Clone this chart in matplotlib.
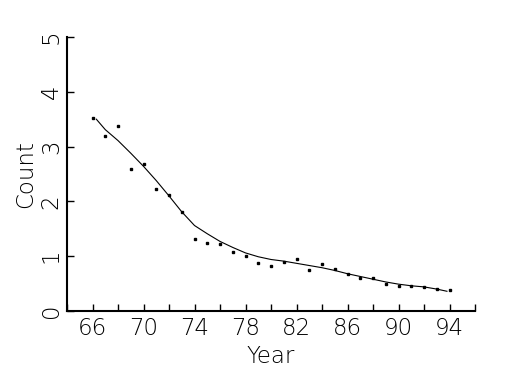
import matplotlib
matplotlib.use("Agg")
import matplotlib.pyplot as plt
from matplotlib.ticker import MultipleLocator

# observed yearly counts
years = [66, 67, 68, 69, 70, 71, 72, 73, 74, 75, 76, 77, 78, 79, 80,
         81, 82, 83, 84, 85, 86, 87, 88, 89, 90, 91, 92, 93, 94]
counts = [3.52, 3.19, 3.38, 2.60, 2.68, 2.23, 2.11, 1.80, 1.31, 1.24,
          1.22, 1.07, 1.00, 0.87, 0.83, 0.89, 0.94, 0.74, 0.85, 0.76,
          0.68, 0.60, 0.60, 0.50, 0.45, 0.45, 0.43, 0.41, 0.38]

# smoothed fit line
fit_years = [66.3, 67, 68, 69, 70, 71, 72, 73, 74, 75, 76, 77, 78, 79,
             80, 81, 82, 83, 84, 85, 86, 87, 88, 89, 90, 91, 92, 93, 93.8]
fit_counts = [3.50, 3.31, 3.11, 2.88, 2.64, 2.38, 2.10, 1.81, 1.56, 1.41,
              1.27, 1.16, 1.06, 0.99, 0.94, 0.91, 0.87, 0.83, 0.79, 0.74,
              0.68, 0.63, 0.58, 0.53, 0.49, 0.46, 0.44, 0.40, 0.36]

x_labels = ["66", "70", "74", "78", "82", "86", "90", "94"]
y_labels = ["0", "1", "2", "3", "4", "5"]

font = dict(family="DejaVu Sans", weight=200, size=16.5)

fig = plt.figure(figsize=(5.25, 3.75), dpi=100)
ax = fig.add_axes([67 / 525, 64 / 375, 408 / 525, 274 / 375])

ax.plot(fit_years, fit_counts, color="black", linewidth=0.8)
ax.plot(years, counts, linestyle="none", marker="s", markersize=1.8,
        color="black")

ax.set_xlim(64, 96)
ax.set_ylim(0, 5)

ax.xaxis.set_minor_locator(MultipleLocator(2))
ax.set_xticks([int(v) for v in x_labels])
ax.set_xticklabels(x_labels, fontdict=font)
ax.set_yticks([int(v) for v in y_labels])
ax.set_yticklabels(y_labels, fontdict=font, rotation=90, va="center")

ax.tick_params(axis="x", which="both", direction="in", length=5, width=1,
               pad=4)
ax.tick_params(axis="y", direction="in", length=5, width=1, pad=3)

for side in ["top", "right"]:
    ax.spines[side].set_visible(False)
for side in ["left", "bottom"]:
    ax.spines[side].set_linewidth(1.5)

ax.set_xlabel("Year", fontdict=font, labelpad=4)
ax.set_ylabel("Count", fontdict=font, labelpad=2)

fig.savefig("out.png", dpi=100)
